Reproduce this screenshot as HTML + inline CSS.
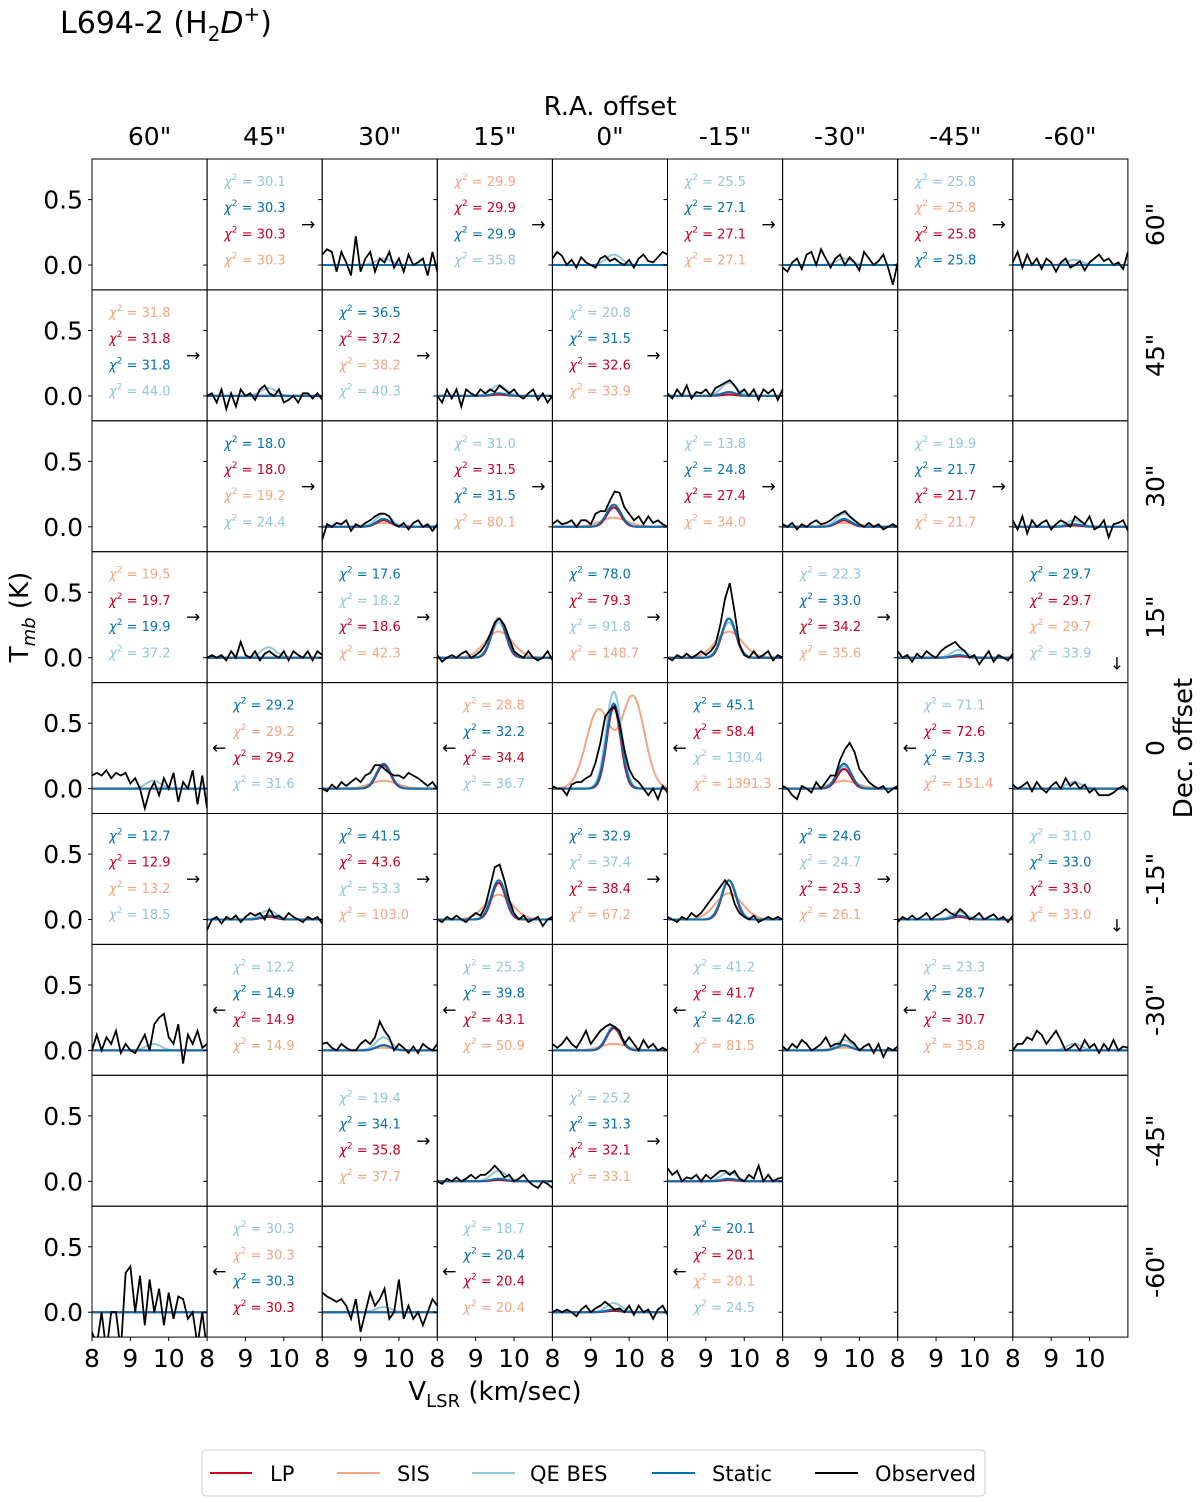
<!DOCTYPE html>
<html><head><meta charset="utf-8"><style>
body{margin:0;background:#fff;}
svg{display:block;font-family:"DejaVu Sans","Liberation Sans",sans-serif;}
</style></head><body>
<svg id="chart" width="1200" height="1502" viewBox="0 0 1200 1502" xmlns="http://www.w3.org/2000/svg">
<text x="60" y="33" font-size="30">L694-2 (H<tspan font-size="20" dy="8">2</tspan><tspan dy="-8" font-style="italic">D</tspan><tspan font-size="20" dy="-12">+</tspan><tspan dy="12">)</tspan></text>
<text x="610" y="115" font-size="26" text-anchor="middle">R.A. offset</text>
<text x="495" y="1400" font-size="26" text-anchor="middle">V<tspan font-size="18" dy="7">LSR</tspan><tspan dy="-7"> (km/sec)</tspan></text>
<text transform="translate(28,617) rotate(-90)" font-size="26" text-anchor="middle">T<tspan font-size="18" dy="7" font-style="italic">mb</tspan><tspan dy="-7"> (K)</tspan></text>
<text transform="translate(1192,748) rotate(-90)" font-size="26" text-anchor="middle">Dec. offset</text>
<g id="grid"></g>
<g>
<rect x="202" y="1450" width="783" height="46" rx="4" fill="#fff" stroke="#ccc"/>
<line x1="210" y1="1473" x2="252" y2="1473" stroke="#ca0020" stroke-width="2"/><text x="270" y="1481" font-size="21">LP</text>
<line x1="337" y1="1473" x2="380" y2="1473" stroke="#f4a582" stroke-width="2"/><text x="397" y="1481" font-size="21">SIS</text>
<line x1="472" y1="1473" x2="515" y2="1473" stroke="#92c5de" stroke-width="2"/><text x="530" y="1481" font-size="21">QE BES</text>
<line x1="652" y1="1473" x2="695" y2="1473" stroke="#0571b0" stroke-width="2"/><text x="712" y="1481" font-size="21">Static</text>
<line x1="815" y1="1473" x2="858" y2="1473" stroke="#000" stroke-width="2"/><text x="875" y="1481" font-size="21">Observed</text>
</g>
</svg>
<script>
const raLabels=['60"','45"','30"','15"','0"','-15"','-30"','-45"','-60"'];
const decLabels=['60"','45"','30"','15"','0','-15"','-30"','-45"','-60"'];
const yTicks=[0.0,0.5];
const xTicks=[8,9,10];
// spectrum panels
const specRow=[0,0,0,0,1,1,1,2,2,2,2,3,3,3,3,4,4,4,4,4,5,5,5,5,6,6,6,6,6,7,7,8,8,8];
const specCol=[2,4,6,8,1,3,5,2,4,6,8,1,3,5,7,0,2,4,6,8,1,3,5,7,0,2,4,6,8,3,5,0,2,4];
const ampStatic=[0,0,0,0,0,.02,.03,.06,.17,.06,.02,0,.3,.3,.02,0,.19,.65,.19,0,.03,.3,.3,.03,0,.04,.18,.04,0,.02,.02,0,0,.02];
const ampLP=[0,0,0,0,0,.01,.01,.05,.15,.05,.01,0,.3,.3,.01,0,.18,.62,.15,0,.02,.28,.3,.02,0,.04,.17,.04,0,.01,.01,0,0,.01];
const ampQE=[.05,.08,.05,.04,.06,.08,.1,.1,.14,.1,.05,.08,.27,.27,.06,.06,.17,.74,.17,.05,.07,.3,.3,.06,.05,.1,.17,.08,.05,.08,.07,0,.04,.07];
const ampSIS=[0,0,0,0,0,.01,.02,.03,.07,.03,.01,0,.2,.2,.01,0,.06,.6,.06,0,.02,.19,.2,.02,0,.02,.05,.02,0,.01,.01,0,0,.01];
const ampSIS2=[0,0,0,0,0,0,0,0,0,0,0,0,0,0,0,0,0,.7,0,0,0,0,0,0,0,0,0,0,0,0,0,0,0,0];
const observed=[
[.08,.12,.1,-.05,.1,.02,-.08,.22,-.05,.05,.1,-.05,.05,.02,.1,-.02,.05,-.05,.08,0,.02,.05,-.08,.1,-.05],
[.05,.1,.07,0,.04,-.02,.06,.02,0,-.02,.05,.07,.03,.05,.02,0,.04,-.02,.05,.08,.03,.02,.06,.1,.08],
[-.02,-.05,.02,.05,-.03,.08,.1,0,.12,.05,-.02,.05,.08,0,.06,.02,-.04,.1,.05,0,.03,.08,-.02,-.15,.02],
[.02,.1,-.02,.08,0,.05,-.03,.05,.02,-.05,.02,.05,-.02,0,.03,-.04,.02,.05,.08,.03,.05,0,.02,-.03,.1],
[0,.02,-.05,.05,-.1,.02,-.08,.05,0,.02,-.03,.05,.08,.02,0,.05,-.05,-.03,0,-.05,.02,.02,-.02,.02,-.03],
[0,-.05,.05,-.02,.05,-.08,.05,.02,0,.05,.02,.05,.03,.08,.05,.02,.05,0,-.02,.02,.05,-.03,.02,-.05,0],
[.02,-.02,.05,0,.08,-.02,.03,.02,.05,0,.06,.08,.1,.12,.08,.02,.05,0,.05,-.03,.05,.02,.05,-.03,.05],
[-.1,.02,0,.03,.02,.05,-.03,.02,0,.03,.05,.08,.1,.1,.08,.02,0,.03,-.02,.03,.05,0,.02,-.03,.02],
[.02,.05,.02,.03,.05,0,.05,.05,.02,.1,.12,.12,.2,.27,.26,.15,.1,.05,.08,.02,.08,.03,.05,.02,0],
[.02,0,.03,-.02,.02,0,.03,.05,.02,.03,.05,.08,.1,.12,.08,.05,.02,0,.03,0,.02,-.02,0,.02,0],
[.05,-.02,.08,-.05,.05,0,.03,.05,-.02,.02,.05,.03,0,.08,.05,.02,.08,-.02,0,.05,-.08,.02,.03,.05,-.03],
[0,.02,0,.02,-.02,.05,0,.12,.02,0,.05,-.02,.03,.05,.02,0,.05,-.02,.05,.02,0,.05,-.02,.05,.02],
[.02,-.03,0,.02,0,.03,.05,0,.02,.05,.1,.18,.27,.3,.25,.15,.05,.02,0,.05,0,-.02,0,.05,-.02],
[0,-.02,.02,0,.03,0,.02,.05,.02,.05,.1,.25,.45,.57,.35,.1,.02,0,.05,0,.02,.05,-.02,.02,0],
[.05,0,.02,-.03,.03,0,.05,.02,0,.05,.08,.1,.12,.08,.05,0,.02,-.05,0,.05,-.03,.02,0,-.02,.03],
[.1,.12,.1,.14,.08,.12,.1,.12,.04,.08,0,-.15,-.02,.05,-.05,.08,0,.12,-.1,.05,0,.14,-.12,.1,-.15],
[0,-.02,.03,0,.05,.02,.05,.08,.05,.1,.12,.18,.18,.15,.12,.1,.1,.08,.12,.1,.08,.05,.02,.05,0],
[.02,0,0,-.05,.03,.05,.05,.08,.1,.2,.35,.55,.6,.63,.5,.3,.15,.08,.05,0,-.05,0,-.08,.02,-.03],
[.02,0,-.05,-.08,.02,0,-.03,.05,0,.05,.1,.1,.22,.3,.35,.28,.15,.1,.05,.02,0,.02,-.03,0,.02],
[.03,0,.02,.05,-.02,.05,0,-.03,.02,.05,0,.08,.02,.05,0,.03,-.03,0,-.05,-.05,-.05,-.03,0,.02,-.02],
[-.08,0,.02,-.03,.02,0,.03,-.02,.02,.05,.03,.05,0,.08,.02,.03,0,.05,.02,0,-.02,.02,0,.02,-.03],
[0,-.02,.02,0,.03,0,-.02,.02,.05,.03,.1,.25,.4,.42,.3,.15,.05,0,.03,-.02,0,.02,-.05,0,.02],
[.02,0,-.02,.02,0,.05,.02,.05,.1,.15,.2,.25,.3,.25,.12,.05,.02,0,.03,-.02,0,.02,0,.02,0],
[-.02,.02,0,.03,0,.02,.05,0,.03,.05,.08,.05,.03,.08,.05,0,.02,.05,0,.02,.04,0,.02,-.02,.03],
[0,.12,0,.1,.05,.15,-.02,.05,0,-.02,.05,.12,0,.2,.25,.28,.1,.05,.2,-.1,.12,.05,.15,.02,.05],
[.05,.06,.02,0,.05,.02,0,0,.05,.08,.05,.1,.22,.15,.1,0,.05,.02,-.02,.03,-.02,.05,.02,0,.05],
[.05,.02,.05,.1,.05,.02,.08,.15,.05,.1,.15,.18,.2,.18,.15,.05,.1,.05,0,.08,.02,.05,0,.02,0],
[.03,0,.05,.02,.08,.05,0,.02,.05,.1,.03,.05,.05,.12,.08,.05,0,.03,.05,-.02,.05,-.05,.02,0,.03],
[0,.05,.05,.1,.08,.15,.12,.05,.1,.15,.08,0,.02,.05,0,.08,.02,.05,-.02,.05,0,.08,0,.03,.02],
[0,-.02,.02,0,.03,0,.02,.05,.02,.05,.05,.08,.12,.08,.03,.05,0,.02,.05,0,-.03,-.05,0,-.02,-.05],
[.1,.05,.08,0,.03,.02,.05,0,.05,.02,.05,.08,.08,.05,.08,.02,0,.05,.02,.12,0,.05,0,.02,.03],
[-.15,-.25,0,-.3,0,0,-.3,.3,.35,0,.28,-.1,.25,0,.18,-.1,.15,-.05,.12,.1,-.05,0,-.25,0,-.3],
[.15,.12,.1,.08,.1,.05,-.05,.1,-.15,0,.15,.05,.1,.18,-.05,0,.25,-.05,.05,-.05,0,-.1,0,.1,.05],
[0,.02,0,.02,0,-.03,.02,.05,0,.03,.05,.08,.05,.02,.03,0,.05,-.02,.05,0,.02,-.05,.02,.05,-.02]];
// chi-square text panels (Q=QE BES, I=Static, L=LP, S=SIS)
const textRow=[0,0,0,0,1,1,1,2,2,2,2,3,3,3,3,3,4,4,4,4,5,5,5,5,5,6,6,6,6,7,7,8,8,8];
const textCol=[1,3,5,7,0,2,4,1,3,5,7,0,2,4,6,8,1,3,5,7,0,2,4,6,8,1,3,5,7,2,4,1,3,5];
const chiModels=["QILS","SLIQ","QILS","QSLI","SLIQ","ILSQ","QILS","ILSQ","QLIS","QILS","QILS","SLIQ","IQLS","ILQS","QILS","ILSQ","ISLQ","SILQ","ILQS","QLIS","ILSQ","ILQS","IQLS","IQLS","QILS","QILS","QILS","QLIS","QILS","QILS","QILS","QSIL","QILS","ILSQ"];
const chiValues=[
["30.1","30.3","30.3","30.3"],["29.9","29.9","29.9","35.8"],["25.5","27.1","27.1","27.1"],["25.8","25.8","25.8","25.8"],
["31.8","31.8","31.8","44.0"],["36.5","37.2","38.2","40.3"],["20.8","31.5","32.6","33.9"],
["18.0","18.0","19.2","24.4"],["31.0","31.5","31.5","80.1"],["13.8","24.8","27.4","34.0"],["19.9","21.7","21.7","21.7"],
["19.5","19.7","19.9","37.2"],["17.6","18.2","18.6","42.3"],["78.0","79.3","91.8","148.7"],["22.3","33.0","34.2","35.6"],["29.7","29.7","29.7","33.9"],
["29.2","29.2","29.2","31.6"],["28.8","32.2","34.4","36.7"],["45.1","58.4","130.4","1391.3"],["71.1","72.6","73.3","151.4"],
["12.7","12.9","13.2","18.5"],["41.5","43.6","53.3","103.0"],["32.9","37.4","38.4","67.2"],["24.6","24.7","25.3","26.1"],["31.0","33.0","33.0","33.0"],
["12.2","14.9","14.9","14.9"],["25.3","39.8","43.1","50.9"],["41.2","41.7","42.6","81.5"],["23.3","28.7","30.7","35.8"],
["19.4","34.1","35.8","37.7"],["25.2","31.3","32.1","33.1"],
["30.3","30.3","30.3","30.3"],["18.7","20.4","20.4","20.4"],["20.1","20.1","20.1","24.5"]];
const arrowDir=["r","r","r","r","r","r","r","r","r","r","r","r","r","r","r","d","l","l","l","l","r","r","r","r","d","l","l","l","l","r","r","l","l","l"];

const NS="http://www.w3.org/2000/svg";
const X0=92,Y0=159,PW=115.1,PH=130.9;
const XMIN=8,XMAX=11,YMIN=-0.19,YMAX=0.81;
const COL={L:"#ca0020",S:"#f4a582",Q:"#92c5de",I:"#0571b0"};
const grid=document.getElementById('grid');
function mk(tag,attrs,parent){const e=document.createElementNS(NS,tag);for(const k in attrs)e.setAttribute(k,attrs[k]);(parent||grid).appendChild(e);return e;}
function px(c,v){return X0+c*PW+(v-XMIN)/(XMAX-XMIN)*PW;}
function py(r,v){return Y0+r*PH+(YMAX-v)/(YMAX-YMIN)*PH;}
function gauss(v,a,m,s){return a*Math.exp(-0.5*((v-m)/s)**2);}

const defs=mk('defs',{});
for(let r=0;r<9;r++)for(let c=0;c<9;c++){
  const cp=mk('clipPath',{id:'cp'+r+'_'+c},defs);
  mk('rect',{x:X0+c*PW,y:Y0+r*PH,width:PW,height:PH},cp);
}
const NSTEP=120;
specRow.forEach((r,i)=>{
  const c=specCol[i];
  const g=mk('g',{'clip-path':'url(#cp'+r+'_'+c+')'});
  
  
  const models=[
    ['S',v=>ampSIS2[i]>0?gauss(v,ampSIS[i],9.2,0.32)+gauss(v,ampSIS2[i],10.1,0.3):gauss(v,ampSIS[i],9.6,0.35)],
    ['Q',v=>gauss(v,ampQE[i],9.6,0.2)],
    ['L',v=>gauss(v,ampLP[i],9.6,0.18)],
    ['I',v=>gauss(v,ampStatic[i],9.6,0.19)]];
  models.forEach(([k,f])=>{
    let d='';
    for(let j=0;j<=NSTEP;j++){const v=XMIN+(XMAX-XMIN)*j/NSTEP;d+=(j?'L':'M')+px(c,v).toFixed(1)+','+py(r,f(v)).toFixed(1);}
    const p=mk('path',{d:d,fill:'none',stroke:COL[k],'stroke-width':2},g);
    
    
  });
  let d='';
  observed[i].forEach((val,j)=>{const v=8+j*0.125;d+=(j?'L':'M')+px(c,v).toFixed(1)+','+py(r,val).toFixed(1);});
  const p=mk('path',{d:d,fill:'none',stroke:'#000','stroke-width':1.8},g);
  
  
});
textRow.forEach((r,i)=>{
  const c=textCol[i];
  const g=mk('g',{});
  
  
  const a=arrowDir[i];
  const x=X0+c*PW+(a==='l'?26:17);
  for(let k=0;k<4;k++){
    const y=Y0+r*PH+27+k*26.2;
    const t=mk('text',{x:x,y:y,'font-size':13,fill:COL[chiModels[i][k]]},g);
    t.innerHTML='<tspan font-style="italic">χ</tspan><tspan font-size="9" dy="-6">2</tspan><tspan dy="6"> = '+chiValues[i][k]+'</tspan>';
  }
  let ax,ay,ch;
  if(a==='r'){ax=X0+(c+1)*PW-14;ay=Y0+r*PH+71;ch='→';}
  else if(a==='l'){ax=X0+c*PW+12;ay=Y0+r*PH+71;ch='←';}
  else {ax=X0+(c+1)*PW-11;ay=Y0+r*PH+118;ch='↓';}
  const at=mk('text',{x:ax,y:ay,'font-size':17,'text-anchor':'middle'},g);
  at.textContent=ch;
});
for(let r=0;r<9;r++)for(let c=0;c<9;c++){
  const fr=mk('rect',{x:X0+c*PW,y:Y0+r*PH,width:PW,height:PH,fill:'none',stroke:'#000','stroke-width':1});
  
  
  yTicks.forEach(t=>{mk('line',{x1:X0+c*PW-4,x2:X0+c*PW,y1:py(r,t),y2:py(r,t),stroke:'#000'});});
}
for(let r=0;r<9;r++)yTicks.forEach(t=>{
  const e=mk('text',{x:83,y:py(r,t)+9,'font-size':25,'text-anchor':'end'});
  e.textContent=t.toFixed(1);
  
  
});
for(let c=0;c<9;c++)xTicks.forEach(t=>{
  mk('line',{x1:px(c,t),x2:px(c,t),y1:Y0+9*PH,y2:Y0+9*PH+4,stroke:'#000'});
  const e=mk('text',{x:px(c,t),y:Y0+9*PH+30,'font-size':25,'text-anchor':'middle'});
  e.textContent=t;
  
  
});
raLabels.forEach((l,c)=>{
  const e=mk('text',{x:X0+(c+0.5)*PW,y:145,'font-size':25,'text-anchor':'middle'});
  e.textContent=l;
  
  
});
decLabels.forEach((l,r)=>{
  const e=mk('text',{transform:'translate(1164,'+(Y0+(r+0.5)*PH)+') rotate(-90)','font-size':25,'text-anchor':'middle'});
  e.textContent=l;
  
  
});
</script>
</body></html>
